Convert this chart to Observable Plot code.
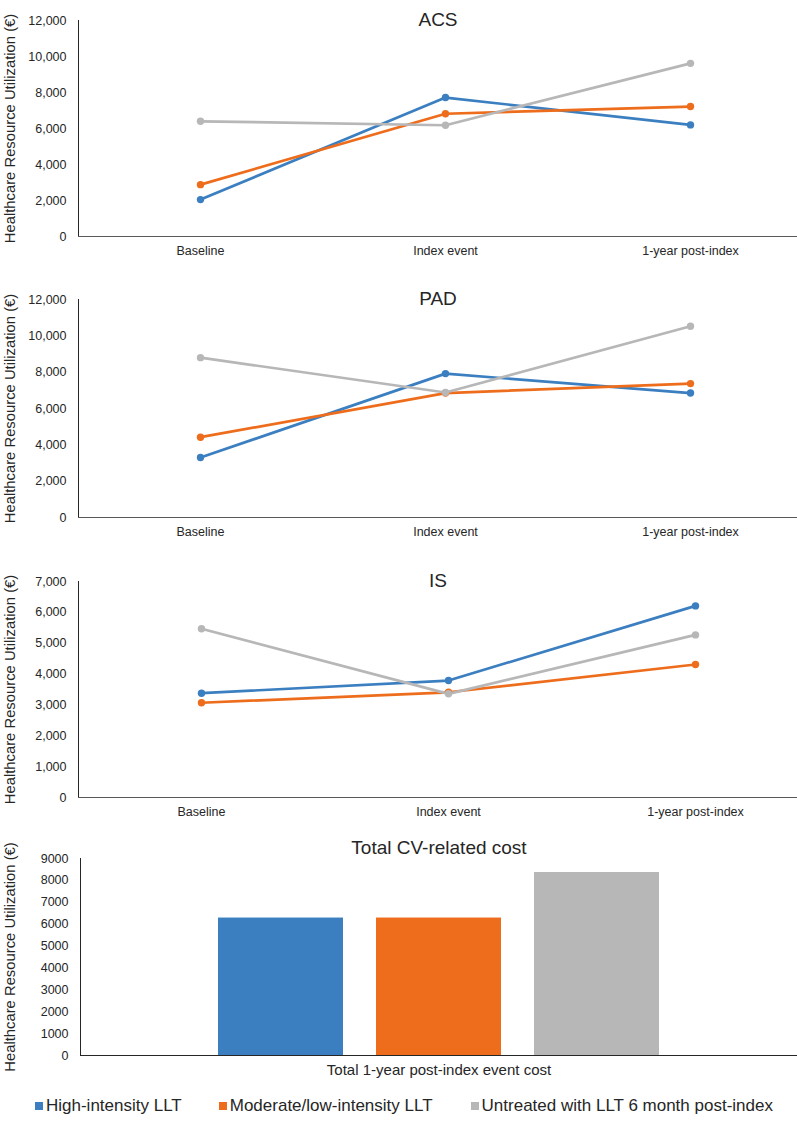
<!DOCTYPE html>
<html><head><meta charset="utf-8">
<script src="https://cdn.jsdelivr.net/npm/d3@7"></script>
<script src="https://cdn.jsdelivr.net/npm/@observablehq/plot@0.6"></script>
<style>
html,body{margin:0;padding:0;background:#fff;overflow:hidden;}
#wrap{position:relative;width:797px;height:1128px;overflow:hidden;font-family:"Liberation Sans",Arial,sans-serif;color:#262626;}
.panel{position:absolute;left:0;width:797px;}
.panel svg{overflow:visible;}
.legend{position:absolute;left:0;top:1094px;width:797px;height:24px;display:flex;align-items:center;font-size:17px;color:#262626;}
.item{display:flex;align-items:center;white-space:nowrap;}
.sw{display:inline-block;width:8px;height:8px;margin-right:3px;}
</style></head><body>
<div id="wrap"></div>
<script>
// ---- data ----
const categories = ["Baseline", "Index event", "1-year post-index"];
const seriesNames = ["High-intensity LLT", "Moderate/low-intensity LLT", "Untreated with LLT 6 month post-index"];
const seriesColors = ["#3b7fc0", "#ed6d1c", "#b8b7b8"];
const yLabel = "Healthcare Resource Utilization (€)";

const acsTitle = "ACS";
const acsHigh = [2050, 7720, 6200];
const acsMod = [2880, 6820, 7220];
const acsUntreated = [6400, 6180, 9620];
const acsTicks = [0, 2000, 4000, 6000, 8000, 10000, 12000];

const padTitle = "PAD";
const padHigh = [3300, 7920, 6850];
const padMod = [4420, 6850, 7370];
const padUntreated = [8800, 6880, 10530];
const padTicks = [0, 2000, 4000, 6000, 8000, 10000, 12000];

const isTitle = "IS";
const isHigh = [3380, 3790, 6210];
const isMod = [3070, 3410, 4310];
const isUntreated = [5470, 3360, 5270];
const isTicks = [0, 1000, 2000, 3000, 4000, 5000, 6000, 7000];

const totalTitle = "Total CV-related cost";
const totalCategory = "Total 1-year post-index event cost";
const totalValues = [6280, 6280, 8360];
const totalTicks = [0, 1000, 2000, 3000, 4000, 5000, 6000, 7000, 8000, 9000];

// ---- drawing ----
const wrap = document.getElementById("wrap");
const baseStyle = {fontFamily: "'Liberation Sans', Arial, sans-serif", fontSize: "12.5px", color: "#262626", background: "white", overflow: "visible"};

function linePanel(o) {
  const rows = [];
  o.series.forEach((vals, si) => vals.forEach((v, ci) => rows.push({series: seriesNames[si], category: categories[ci], value: v})));
  return Plot.plot({
    width: 797, height: o.height,
    marginLeft: 78, marginRight: 0, marginTop: o.marginTop, marginBottom: o.marginBottom,
    style: baseStyle,
    x: {type: "point", domain: categories, range: o.xRange, padding: 0.5, label: null, tickSize: 0, tickPadding: 10},
    y: {domain: [0, o.ticks[o.ticks.length - 1]], ticks: o.ticks, tickFormat: d3.format(","), tickSize: 0, tickPadding: 12, label: null, line: true},
    color: {domain: seriesNames, range: seriesColors},
    marks: [
      Plot.ruleY([0], {stroke: "#595959"}),
      Plot.line(rows, {x: "category", y: "value", z: "series", stroke: "series", strokeWidth: 2.7}),
      Plot.dot(rows, {x: "category", y: "value", fill: "series", r: 3.7}),
      Plot.text([o.title], {text: d => d, frameAnchor: "top", dy: -8, fontSize: 19}),
      Plot.text([yLabel], {text: d => d, frameAnchor: "left", textAnchor: "middle", rotate: -90, dx: -68, fontSize: 14.8})
    ]
  });
}

function addPanel(svg, top, height) {
  const d = document.createElement("div");
  d.className = "panel";
  d.style.top = top + "px";
  d.style.height = height + "px";
  d.appendChild(svg);
  wrap.appendChild(d);
}

addPanel(linePanel({title: acsTitle, series: [acsHigh, acsMod, acsUntreated], ticks: acsTicks,
  height: 279, marginTop: 20, marginBottom: 43, xRange: [77.5, 812.5]}), 0, 279);
addPanel(linePanel({title: padTitle, series: [padHigh, padMod, padUntreated], ticks: padTicks,
  height: 281, marginTop: 20, marginBottom: 43, xRange: [77.5, 812.5]}), 279, 281);
addPanel(linePanel({title: isTitle, series: [isHigh, isMod, isUntreated], ticks: isTicks,
  height: 260, marginTop: 21, marginBottom: 23, xRange: [77.5, 818.5]}), 560, 260);

const bars = seriesNames.map((s, i) => ({series: s, value: totalValues[i]}));
const barPlot = Plot.plot({
  width: 797, height: 260,
  marginLeft: 80, marginRight: 0, marginTop: 38, marginBottom: 25,
  style: baseStyle,
  x: {domain: seriesNames, axis: null, paddingInner: 0.21, paddingOuter: 0.87},
  y: {domain: [0, 9000], ticks: totalTicks, tickFormat: d3.format("d"), tickSize: 0, tickPadding: 12, label: null, line: true},
  color: {domain: seriesNames, range: seriesColors},
  marks: [
    Plot.barY(bars, {x: "series", y: "value", fill: "series"}),
    Plot.ruleY([0], {stroke: "#262626"}),
    Plot.text([totalTitle], {text: d => d, frameAnchor: "top", dy: -18, fontSize: 19}),
    Plot.text([totalCategory], {text: d => d, frameAnchor: "bottom", lineAnchor: "top", dy: 9, fontSize: 15}),
    Plot.text([yLabel], {text: d => d, frameAnchor: "left", textAnchor: "middle", rotate: -90, dx: -70, fontSize: 14.8})
  ]
});
addPanel(barPlot, 820, 260);

// legend
const legend = document.createElement("div");
legend.className = "legend";
const gaps = [35, 37, 38];
seriesNames.forEach((s, i) => {
  const it = document.createElement("div");
  it.className = "item";
  it.style.marginLeft = gaps[i] + "px";
  const sw = document.createElement("span");
  sw.className = "sw";
  sw.style.background = seriesColors[i];
  it.appendChild(sw);
  it.appendChild(document.createTextNode(s));
  legend.appendChild(it);
});
wrap.appendChild(legend);
</script>
</body></html>
